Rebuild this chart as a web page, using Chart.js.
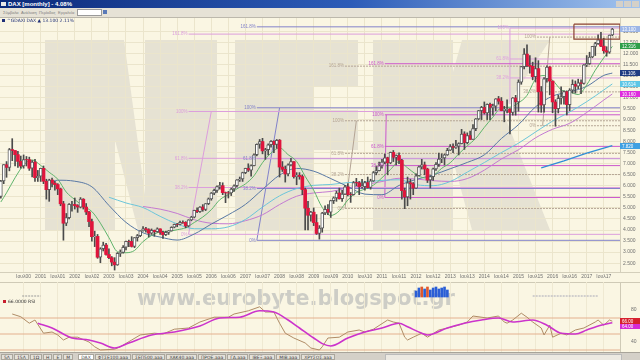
<!DOCTYPE html>
<html>
<head>
<meta charset="utf-8">
<title>DAX monthly</title>
<script src="https://cdn.jsdelivr.net/npm/chart.js@4.4.1/dist/chart.umd.min.js"></script>
<style>
  html, body { margin: 0; padding: 0; }
  body { width: 640px; height: 360px; overflow: hidden; position: relative; background: #faf6e3; font-family: "Liberation Sans", "DejaVu Sans", sans-serif; }
  #titlebar { position: absolute; left: 0; top: 0; width: 640px; height: 8px; background: linear-gradient(90deg, #0c2a7a 0%, #2c5cb8 55%, #a2c4ee 100%); color: #fff; font: bold 6px "Liberation Sans", sans-serif; line-height: 8px; }
  #titlebar .ico { position: absolute; left: 1px; top: 2px; width: 5px; height: 4px; background: #e8e8e8; }
  #titlebar .t { position: absolute; left: 8px; top: 0; }
  #titlebar .btns { position: absolute; right: 1px; top: 1px; line-height: 0; }
  #titlebar .btns span { display: inline-block; width: 7px; height: 6px; margin-left: 1px; background: #d4d0c8; }
  #toolbar { position: absolute; left: 0; top: 8px; width: 640px; height: 9px; background: #e6e2d6; border-bottom: 1px solid #bcb8ac; font: 4px "Liberation Sans", sans-serif; color: #808080; line-height: 9px; }
  #toolbar .m { position: absolute; top: 0; }
  #toolbar .box { position: absolute; left: 77px; top: 1px; width: 23px; height: 5px; background: #fff; border: 1px solid #9a9a9a; }
  #toolbar .go { position: absolute; left: 103px; top: 2px; width: 4px; height: 4px; background: #5a7ab8; }
  #main { position: absolute; left: 0; top: 18px; }
  #rsi { position: absolute; left: 0; top: 282px; }
  #legend { position: absolute; left: 2px; top: 18px; font: 4.5px "DejaVu Sans", sans-serif; color: #1f2f78; white-space: nowrap; }
  #legend i { display: inline-block; width: 3px; height: 3px; background: #1f2f78; margin-right: 2px; }
  #rsilegend { position: absolute; left: 3px; top: 299px; font: 4.5px "DejaVu Sans", sans-serif; color: #333; white-space: nowrap; }
  #rsilegend i { display: inline-block; width: 3px; height: 3px; background: #c81e2e; margin-right: 2px; }
  #tabs { position: absolute; left: 0; top: 352px; width: 640px; height: 8px; background: #d4d0c8; border-top: 1px solid #a8a49a; font: 4.5px "DejaVu Sans", sans-serif; color: #444; line-height: 6px; white-space: nowrap; }
  #tabs span { display: inline-block; margin: 1px 0 0 1px; padding: 0 2px; height: 6px; background: #e4e1da; border: 1px solid #aaa69c; box-sizing: border-box; line-height: 5px; }
  #tabs span.sel { background: #fff; }
  #tabs .scroll { position: absolute; left: 385px; top: 1px; width: 235px; height: 5px; background: #ece9e2; border: 1px solid #bbb; }
</style>
</head>
<body>
<div id="titlebar"><div class="ico"></div><div class="t">DAX [monthly] - 4.08%</div><div class="btns"><span></span><span></span><span></span></div></div>
<div id="toolbar">
  <span class="m" style="left:3px">Σύμβολο</span>
  <span class="m" style="left:21px">Ανάλυση</span>
  <span class="m" style="left:39px">Περίοδος</span>
  <span class="m" style="left:58px">Εργαλεία</span>
  <div class="box"></div><div class="go"></div>
</div>
<canvas id="main" width="640" height="264"></canvas>
<canvas id="rsi" width="640" height="70"></canvas>
<div id="legend"></div>
<div id="rsilegend"></div>
<div id="tabs"></div>

<script>
// ---- DAX monthly candles, Nov 1999 .. Oct 2017 (index 0 = Nov 1999) ----
const firstOpen = 5525;

const closes = [
    6222, 6958,                                                                   // 1999
    6835, 7644, 7599, 7414, 7109, 6898, 7190, 7186, 6798, 7077, 6372, 6434,       // 2000
    6795, 6208, 5829, 6264, 6123, 6058, 5862, 5188, 4308, 4559, 5160, 5160,       // 2001
    5108, 5039, 5397, 5041, 4818, 4383, 3700, 3712, 2769, 3153, 3320, 2893,       // 2002
    2748, 2547, 2424, 2942, 2983, 3221, 3487, 3484, 3257, 3655, 3746, 3965,       // 2003
    4059, 4018, 3857, 3985, 3921, 4052, 3896, 3785, 3893, 3960, 4126, 4256,       // 2004
    4254, 4350, 4349, 4185, 4460, 4587, 4887, 4830, 5044, 4929, 5193, 5408,       // 2005
    5674, 5796, 5970, 6009, 5693, 5683, 5682, 5859, 6004, 6268, 6309, 6597,       // 2006
    6789, 6716, 6917, 7409, 7883, 8007, 7584, 7638, 7862, 8020, 7871, 8067,       // 2007
    6852, 6748, 6535, 6949, 7097, 6418, 6480, 6422, 5831, 4988, 4669, 4810,       // 2008
    4338, 3844, 4085, 4770, 4941, 4809, 5332, 5458, 5675, 5415, 5625, 5957,       // 2009
    5608, 5598, 6154, 6136, 5965, 5966, 6148, 5925, 6229, 6601, 6688, 6914,       // 2010
    7077, 7273, 7041, 7514, 7294, 7376, 7159, 5785, 5502, 6141, 6089, 5898,       // 2011
    6458, 6856, 6947, 6761, 6264, 6416, 6772, 6971, 7216, 7261, 7406, 7612,       // 2012
    7776, 7742, 7795, 7914, 8349, 7959, 8276, 8103, 8594, 9033, 9406, 9552,       // 2013
    9306, 9692, 9556, 9603, 9943, 9833, 9407, 9470, 9474, 9327, 9980, 9806,       // 2014
    10694, 11402, 11966, 11454, 11414, 10945, 11309, 10259, 9660, 10850, 11382, 10743, // 2015
    9798, 9495, 9966, 10039, 10263, 9680, 10337, 10593, 10511, 10665, 10640, 11481, // 2016
    11535, 11834, 12313, 12438, 12615, 12325, 12118, 12056, 12829, 13100          // 2017
];

const highs = [
    6250, 6963,
    7100, 7695, 8136, 7600, 7560, 7350, 7400, 7330, 7300, 7150, 7200, 6700,
    6800, 6900, 6300, 6300, 6350, 6200, 6100, 5900, 5300, 4750, 5200, 5300,
    5450, 5150, 5470, 5420, 5200, 4850, 4500, 3950, 3800, 3200, 3450, 3400,
    3150, 2800, 2750, 2980, 3100, 3300, 3500, 3550, 3700, 3660, 3800, 3970,
    4160, 4120, 4060, 4050, 4000, 4100, 4060, 3950, 3950, 3980, 4150, 4270,
    4300, 4400, 4420, 4380, 4470, 4620, 4900, 5000, 5060, 5150, 5200, 5450,
    5700, 5850, 6000, 6160, 6140, 5720, 5750, 5900, 6050, 6280, 6400, 6620,
    6800, 7000, 6950, 7450, 7900, 8100, 8151, 7700, 7900, 8050, 8040, 8100,
    8100, 7100, 6900, 7000, 7250, 7100, 6600, 6600, 6500, 5900, 5300, 4850,
    5000, 4700, 4200, 4800, 5100, 5150, 5350, 5500, 5760, 5900, 5800, 6020,
    6100, 5700, 6200, 6340, 6200, 6300, 6200, 6400, 6300, 6650, 6900, 7080,
    7200, 7440, 7300, 7530, 7600, 7400, 7500, 7200, 5900, 6400, 6300, 6150,
    6550, 6900, 7200, 7080, 6800, 6450, 6800, 7050, 7480, 7450, 7440, 7700,
    7870, 7900, 8060, 7950, 8560, 8450, 8400, 8480, 8770, 9050, 9420, 9600,
    9800, 9710, 9750, 9700, 9950, 10050, 10000, 9600, 9900, 9500, 10000, 10100,
    10800, 11410, 12220, 12390, 11900, 11600, 11800, 11670, 10500, 10900, 11430, 11400,
    10750, 9900, 10110, 10480, 10300, 10300, 10400, 10800, 10750, 10830, 10800, 11490,
    11900, 12050, 12320, 12500, 12840, 12950, 12680, 12300, 12830, 13130
];

const lows = [
    5440, 6100,
    6388, 6680, 7140, 6900, 6834, 6800, 6800, 6900, 6700, 6400, 6200, 6200,
    6200, 6100, 5400, 5300, 5950, 5800, 5600, 5100, 3540, 4200, 4500, 4850,
    4950, 4800, 5000, 4950, 4700, 4150, 3500, 3250, 2720, 2520, 3050, 2860,
    2700, 2380, 2188, 2400, 2800, 2950, 3100, 3250, 3230, 3200, 3500, 3700,
    3950, 3900, 3690, 3800, 3720, 3900, 3800, 3620, 3750, 3800, 3950, 4100,
    4150, 4230, 4300, 4100, 4140, 4420, 4550, 4790, 4800, 4850, 4880, 5150,
    5350, 5600, 5700, 5850, 5600, 5240, 5450, 5560, 5750, 5950, 6200, 6200,
    6550, 6650, 6440, 6900, 7360, 7700, 7450, 7200, 7400, 7750, 7500, 7700,
    6400, 6650, 6170, 6450, 6900, 6350, 6050, 6300, 5600, 4000, 4000, 4400,
    4200, 3800, 3589, 3900, 4700, 4700, 4570, 5200, 5300, 5400, 5300, 5600,
    5540, 5250, 5580, 6000, 5600, 5900, 5800, 5900, 5850, 6200, 6500, 6680,
    6800, 7000, 6500, 7000, 7100, 6950, 7000, 5400, 4966, 5100, 5400, 5600,
    5880, 6450, 6760, 6500, 6150, 5900, 6250, 6700, 6880, 7050, 6950, 7380,
    7600, 7500, 7700, 7400, 7900, 7650, 7900, 8100, 8100, 8500, 9000, 9000,
    9250, 9000, 9000, 9200, 9400, 9700, 9400, 8900, 9300, 8355, 9200, 9200,
    9380, 10600, 11300, 11400, 11100, 10800, 10700, 9340, 9330, 9340, 10700, 10120,
    9310, 8700, 9300, 9700, 9700, 9210, 9400, 10200, 10200, 10400, 10170, 10600,
    11400, 11500, 11800, 11900, 12400, 12300, 12000, 11870, 12000, 12800
];

// moving averages (month index / value)
const greenIdx = [0, 2, 5, 8, 11, 14, 17, 20, 23, 26, 29, 32, 35, 38, 41, 44, 47, 50, 53, 56, 59,
    62, 65, 68, 71, 74, 77, 80, 83, 86, 89, 92, 95, 98, 101, 104, 107, 110, 113, 116, 119,
    122, 125, 128, 131, 134, 137, 140, 143, 146, 149, 152, 155, 158, 161, 164, 167, 170, 173,
    176, 179, 182, 185, 188, 191, 194, 197, 200, 203, 206, 209, 212, 215];
const greenVal = [5270, 5686, 6366, 6939, 7175, 6927, 6615, 6302, 5719, 5379, 5082, 4837, 4312,
    3654, 3021, 2972, 3075, 3480, 3751, 3915, 3943, 4013, 4105, 4341, 4588, 4920, 5374, 5604, 5864,
    6089, 6455, 7048, 7483, 7719, 7413, 7104, 6432, 5800, 5024, 4659, 4867, 5359, 5696, 5857, 6033,
    6365, 6741, 7094, 6816, 6522, 6360, 6460, 6792, 7046, 7447, 7809, 8154, 8649, 9112, 9533, 9561,
    9754, 10098, 10830, 10995, 10781, 10350, 10255, 10135, 10574, 11235, 11796, 12316];

const navyIdx = [17, 20, 26, 32, 38, 44, 50, 56, 62, 68, 74, 80, 86, 92, 98, 104, 110, 116, 122,
    128, 134, 140, 146, 152, 158, 164, 170, 176, 182, 188, 194, 200, 206, 212, 215];
const navyVal = [6162, 6255, 6210, 5957, 5115, 4347, 3874, 3682, 3546, 3820, 4269, 4691, 5161,
    5836, 6485, 6790, 6665, 6330, 5970, 5626, 5599, 6019, 6289, 6498, 6774, 7061, 7405, 8144, 8769,
    9577, 10065, 10258, 10505, 11001, 11106];

const cyanIdx = [38, 44, 50, 56, 62, 68, 74, 80, 86, 92, 98, 104, 110, 116, 122, 128, 134, 140,
    146, 152, 158, 164, 170, 176, 182, 188, 194, 200, 206, 212, 215];
const cyanVal = [5486, 5226, 5018, 4621, 4276, 4059, 4058, 4144, 4479, 5039, 5548, 5877, 6024,
    6062, 6147, 6176, 6248, 6275, 6053, 6008, 6197, 6622, 7056, 7508, 7932, 8439, 8932, 9344, 9812,
    10341, 10614];

const magentaIdx = [50, 56, 62, 68, 74, 80, 86, 92, 98, 104, 110, 116, 122, 128, 134, 140, 146,
    152, 158, 164, 170, 176, 182, 188, 194, 200, 206, 212, 215];
const magentaVal = [5065, 4946, 4751, 4468, 4308, 4283, 4422, 4691, 5153, 5530, 5678, 5745, 5903,
    6056, 6195, 6342, 6309, 6234, 6200, 6330, 6712, 7217, 7633, 8175, 8563, 8832, 9324, 9885, 10160];

const blueIdx = [190, 198, 206, 215];
const blueVal = [6810, 7130, 7480, 7820];

// fibonacci sets: start index, level values, level names, connector
const fibStarts = [66, 90, 121, 135, 179, 188.5];
const fibLevels = [
    [3805, 5925, 7247, 9367, 12871],
    [3534, 5880, 7233, 9534, 13200],
    [4978, 6512, 7472, 8947, 11420],
    [5474, 6917, 7788, 9218, 11530],
    [10887, 11744, 13142],
    [8722, 10255, 12736]
];
const fibNames = [
    ['0%', '38.2%', '61.8%', '100%', '161.8%'],
    ['0%', '38.2%', '61.8%', '100%', '161.8%'],
    ['0%', '38.2%', '61.8%', '100%', '161.8%'],
    ['0%', '38.2%', '61.8%', '100%', '161.8%'],
    ['38.2%', '61.8%', '100%'],
    ['0%', '38.2%', '100%']
];
const fibConnIdx = [[66, 74], [90, 98], [121, 125], [135, 135.5], [179, 179], [190.5, 193]];
const fibConnVal = [[3805, 9367], [3534, 9534], [4978, 8947], [5474, 9218], [9700, 13142], [8722, 12736]];

// rectangle drawn around the latest highs
const boxIdx = [201.5, 217.7, 217.7, 201.5, 201.5];
const boxVal = [13320, 13320, 12645, 12645, 13320];

// RSI panel
const rsiIdx = [4, 7, 10, 12, 15, 18, 20, 22, 24, 27, 31, 33, 35, 40, 42, 46, 49, 54, 57, 61,
    66, 70, 75, 80, 82, 87, 91, 93, 96, 98, 100, 103, 107, 109, 112, 113, 115, 119, 122, 126,
    128, 131, 136, 138, 140, 142, 143, 145, 148, 150, 154, 157, 161, 164, 166, 171, 175, 177, 178, 180,
    183, 185, 187, 190, 191, 193, 194, 197, 199, 202, 205, 209, 210, 212, 214, 215];
const rsiVal = [75, 71.6, 63.5, 67.5, 51, 52.5, 48.8, 42.5, 46, 46, 40, 34, 30, 31, 34, 42.5, 48.8, 51, 50, 56,
    57.5, 65, 71, 71, 75, 79, 84, 77.5, 77.5, 63.5, 51, 45, 38.8, 32.5, 30, 34, 45, 46, 52.5, 55,
    52.5, 56, 67.5, 65, 63.5, 46, 42.5, 46, 51, 46, 55, 57.5, 61, 65, 72.5, 70, 72.5, 65, 63.5, 67.5,
    76, 71, 65, 57.5, 48.8, 61, 46, 51, 48.8, 55, 57.5, 65, 67.5, 61, 67.5, 66];
const rsiMaIdx = [13, 18, 25, 31, 35, 40, 45, 53, 61, 70, 77, 84, 91, 96, 101, 105, 110, 113, 116, 122,
    128, 134, 140, 143, 148, 150, 157, 163, 169, 175, 180, 187, 192, 197, 202, 206, 211, 215];
const rsiMaVal = [63.5, 57.5, 45, 42.5, 38.8, 32.5, 38.8, 48.8, 52.5, 60, 70, 71, 79, 77.5, 67.5, 57.5, 45, 38, 35, 45,
    52.5, 57.5, 63.5, 59, 51, 48.8, 57.5, 63.5, 67.5, 70, 65, 67.5, 61, 51, 50, 55, 61, 64];
const rsiGuides = [70, 50, 30];
const rsiTicks = [40, 60, 80];

// small bar strip at the top of the RSI panel
const stripIdx = [146, 147, 148, 149, 150, 151, 152, 153, 154, 155, 156, 157];
const stripVal = [0.6, 0.9, 1.0, 0.8, 1.0, 0.7, 0.9, 1.0, 0.8, 0.9, 1.0, 0.7];

// axes
const yTicks = [2500, 3000, 3500, 4000, 4500, 5000, 5500, 6000, 6500, 7000, 7500, 8000, 8500,
    9000, 9500, 10000, 10500, 11000, 11500, 12000, 12500, 13000];
const xTickIdx = [8, 14, 20, 26, 32, 38, 44, 50, 56, 62, 68, 74, 80, 86, 92, 98, 104, 110, 116,
    122, 128, 134, 140, 146, 152, 158, 164, 170, 176, 182, 188, 194, 200, 206, 212];
const xTickLabels = ['Ιουλ00', '2001', 'Ιουλ01', '2002', 'Ιουλ02', '2003', 'Ιουλ03', '2004', 'Ιουλ04',
    '2005', 'Ιουλ05', '2006', 'Ιουλ06', '2007', 'Ιουλ07', '2008', 'Ιουλ08', '2009', 'Ιουλ09', '2010',
    'Ιουλ10', '2011', 'Ιουλ11', '2012', 'Ιουλ12', '2013', 'Ιουλ13', '2014', 'Ιουλ14', '2015', 'Ιουλ15',
    '2016', 'Ιουλ16', '2017', 'Ιουλ17'];
const tabNames = ['5Λ', '15Λ', '1Ω', 'Η', 'Ε', 'Μ', 'DAX', 'ΦΤΣΕ100.aaa', 'ΣΕΠ500.aaa', 'ΧΑΚ40.aaa',
    'ΠΡΟΕ.aaa', 'ΓΔ.aaa', 'ΙΒΕΞ.aaa', 'ΜΙΒ.aaa', 'ΧΡΥΣΟΣ.aaa'];

// ---- setup ----
const X_MIN = -0.3, X_MAX = 217.7;
const FONT = '"Liberation Sans", "DejaVu Sans", sans-serif';
const fmt = v => String(Math.round(v)).replace(/\B(?=(\d{3})+(?!\d))/g, '.');
const pts = (idx, vals) => idx.map((x, k) => ({ x, y: vals[k] }));
const noPad = s => { s.paddingTop = 0; s.paddingBottom = 0; s.paddingLeft = 0; s.paddingRight = 0; };

const wickData = [], upData = [], downData = [];
closes.forEach((c, i) => {
    const o = i === 0 ? firstOpen : closes[i - 1];
    wickData.push({ x: i, y: [lows[i], highs[i]] });
    (c >= o ? upData : downData).push({ x: i, y: [o, c] });
});

function line(data, color, width, order, extra) {
    return Object.assign({
        type: 'line', data, borderColor: color, borderWidth: width,
        pointRadius: 0, fill: false, tension: 0, order
    }, extra || {});
}

const fibColors = ['#dc9edc', '#8282ca', '#b4a494', '#cc58cc', '#dea2de', '#b4a494'];
const fibDatasets = [];
fibStarts.forEach((s, k) => {
    const dash = k === 2 || k === 5 ? [2, 1] : [];
    fibLevels[k].forEach(v => {
        fibDatasets.push(line([{ x: s, y: v }, { x: X_MAX, y: v }], fibColors[k], 1, 6, { borderDash: dash }));
    });
    fibDatasets.push(line(pts(fibConnIdx[k], fibConnVal[k]), fibColors[k], 1, 6));
});

document.getElementById('legend').innerHTML =
    '<i></i>^GDAXI DAX &#9650; ' + fmt(closes[closes.length - 1]) + ' ' +
    ((closes[closes.length - 1] - closes[closes.length - 2]) / closes[closes.length - 2] * 100).toFixed(2) + '%';
document.getElementById('rsilegend').innerHTML = '<i></i>' + rsiVal[rsiVal.length - 1].toFixed(4) + ' RSI';
document.getElementById('tabs').innerHTML = tabNames.map((t, k) =>
    '<span' + (k === 6 ? ' class="sel" style="margin-left:5px"' : '') + '>' + t + '</span>'
).join('') + '<div class="scroll"></div>';

// watermark letters (page pixels)
const watermark = [
    [[45, 40], [115, 40], [115, 230], [45, 230]],
    [[145, 40], [217, 40], [217, 230], [145, 230]],
    [[115, 40], [124, 40], [145, 195], [145, 230], [138, 230], [115, 140]],
    [[235, 40], [358, 40], [358, 87], [313, 87], [313, 110], [358, 110], [358, 150], [313, 150], [313, 230], [235, 230]],
    [[373, 40], [453, 40], [453, 230], [373, 230]],
    [[462, 40], [550, 40], [503, 112], [550, 230], [472, 230], [453, 160], [453, 72]]
];

const mainBg = {
    id: 'mainBg',
    beforeDraw(chart) {
        const { ctx, chartArea: a, width, height } = chart;
        ctx.save();
        ctx.fillStyle = '#faf6e3';
        ctx.fillRect(0, 0, width, height);
        ctx.translate(0, -18);
        ctx.fillStyle = '#e6e2d3';
        watermark.forEach(p => {
            ctx.beginPath();
            p.forEach(([x, y], k) => k ? ctx.lineTo(x, y) : ctx.moveTo(x, y));
            ctx.closePath();
            ctx.fill();
        });
        ctx.restore();
        ctx.save();
        ctx.strokeStyle = '#d4cfbb';
        ctx.lineWidth = 1;
        ctx.beginPath();
        ctx.moveTo(0, a.bottom + 0.5); ctx.lineTo(width, a.bottom + 0.5);
        ctx.moveTo(a.right + 0.5, 0); ctx.lineTo(a.right + 0.5, a.bottom);
        ctx.stroke();
        ctx.restore();
    }
};

function valueBox(ctx, x, y, text, bg, fg) {
    ctx.fillStyle = bg;
    ctx.fillRect(x, Math.round(y) - 3, 20, 6);
    ctx.fillStyle = fg;
    ctx.font = '4.5px ' + FONT;
    ctx.textAlign = 'left';
    ctx.textBaseline = 'middle';
    ctx.fillText(text, x + 2, Math.round(y) + 0.5);
}

const mainLabels = {
    id: 'mainLabels',
    afterDraw(chart) {
        const { ctx, scales: { x, y }, chartArea: a } = chart;
        ctx.save();
        ctx.font = '4.5px ' + FONT;
        ctx.textAlign = 'right';
        ctx.textBaseline = 'middle';
        fibStarts.forEach((s, k) => {
            ctx.fillStyle = fibColors[k];
            fibLevels[k].forEach((v, j) => {
                ctx.fillText(fibNames[k][j], x.getPixelForValue(s) - 1, y.getPixelForValue(v));
            });
        });
        const boxes = [
            [closes[closes.length - 1], '#9db6e6', '#fff'],
            [greenVal[greenVal.length - 1], '#2f9e48', '#fff'],
            [navyVal[navyVal.length - 1], '#1f3c82', '#fff'],
            [cyanVal[cyanVal.length - 1], '#5ec6e6', '#fff'],
            [magentaVal[magentaVal.length - 1], '#de2ede', '#fff'],
            [blueVal[blueVal.length - 1], '#3fa0e2', '#fff']
        ];
        boxes.forEach(([v, bg, fg]) => valueBox(ctx, a.right, y.getPixelForValue(v), fmt(v), bg, fg));
        ctx.restore();
    }
};

new Chart(document.getElementById('main'), {
    type: 'bar',
    data: {
        datasets: [
            { data: upData, backgroundColor: '#ffffff', borderColor: '#5c5c5c', borderWidth: 1, borderSkipped: false, barThickness: 3, grouped: false, order: 1 },
            { data: downData, backgroundColor: '#e0143c', borderWidth: 0, barThickness: 3, grouped: false, order: 1 },
            { data: wickData, backgroundColor: '#4a4a4a', borderWidth: 0, barThickness: 1, grouped: false, order: 2 },
            line(pts(greenIdx, greenVal), '#5fb46c', 1, 3, { cubicInterpolationMode: 'monotone' }),
            line(pts(navyIdx, navyVal), '#5878a4', 1, 3, { cubicInterpolationMode: 'monotone' }),
            line(pts(cyanIdx, cyanVal), '#6cc6da', 1, 3, { cubicInterpolationMode: 'monotone' }),
            line(pts(magentaIdx, magentaVal), '#c47ad2', 1, 3, { cubicInterpolationMode: 'monotone' }),
            line(pts(blueIdx, blueVal), '#2f8ed6', 1.3, 3),
            line(pts(boxIdx, boxVal), '#8a4232', 1.2, 0),
            ...fibDatasets
        ]
    },
    options: {
        responsive: false,
        animation: false,
        events: [],
        layout: { padding: 0 },
        plugins: { legend: { display: false }, tooltip: { enabled: false } },
        scales: {
            x: {
                type: 'linear', min: X_MIN, max: X_MAX, offset: false,
                grid: { offset: false, color: '#ebe5cc', drawTicks: false },
                border: { display: false },
                afterBuildTicks: s => { s.ticks = xTickIdx.map(v => ({ value: v })); },
                afterFit: s => { s.height = 10; noPad(s); },
                ticks: {
                    autoSkip: false, maxRotation: 0, padding: 2, color: '#707070',
                    font: { size: 5, family: FONT },
                    callback: v => { const k = xTickIdx.indexOf(v); return k >= 0 ? xTickLabels[k] : ''; }
                }
            },
            y: {
                position: 'right', min: 2100, max: 13600,
                grid: { color: '#ebe5cc', drawTicks: false },
                border: { display: false },
                afterBuildTicks: s => { s.ticks = yTicks.map(v => ({ value: v })); },
                afterFit: s => { s.width = 20; noPad(s); },
                ticks: { padding: 3, color: '#707070', font: { size: 5, family: FONT }, callback: v => fmt(v) }
            }
        }
    },
    plugins: [mainBg, mainLabels]
});

// ---- RSI panel ----
const rsiBg = {
    id: 'rsiBg',
    beforeDraw(chart) {
        const { ctx, chartArea: a, width, height } = chart;
        ctx.save();
        ctx.fillStyle = '#faf6e3';
        ctx.fillRect(0, 0, width, height);
        ctx.strokeStyle = '#cfcab6';
        ctx.beginPath();
        ctx.moveTo(0, 0.5); ctx.lineTo(width, 0.5);
        ctx.moveTo(a.right + 0.5, 0); ctx.lineTo(a.right + 0.5, height);
        ctx.stroke();
        // site watermark
        const text = 'www.eurobyte.blogspot.gr';
        ctx.font = 'bold 21px "DejaVu Sans", sans-serif';
        const w = ctx.measureText(text).width;
        ctx.translate(137, 23);
        ctx.scale(318 / w, 1);
        ctx.fillStyle = '#cdcdc6';
        ctx.textBaseline = 'alphabetic';
        ctx.fillText(text, 0, 0);
        ctx.restore();
    }
};

const rsiLabels = {
    id: 'rsiLabels',
    afterDraw(chart) {
        const { ctx, scales: { y }, chartArea: a } = chart;
        ctx.save();
        const y1 = y.getPixelForValue(rsiVal[rsiVal.length - 1]);
        let y2 = y.getPixelForValue(rsiMaVal[rsiMaVal.length - 1]);
        if (Math.abs(y2 - y1) < 5) y2 = y1 + 5;
        valueBox(ctx, a.right, y2, rsiMaVal[rsiMaVal.length - 1].toFixed(2), '#d62ad6', '#fff');
        valueBox(ctx, a.right, y1, rsiVal[rsiVal.length - 1].toFixed(2), '#d6202e', '#fff');
        ctx.restore();
    }
};

new Chart(document.getElementById('rsi'), {
    type: 'line',
    data: {
        datasets: [
            line(pts(rsiIdx, rsiVal), '#b08c66', 1, 2),
            line(pts(rsiMaIdx, rsiMaVal), '#cc33cc', 1.6, 1, { cubicInterpolationMode: 'monotone' }),
            ...rsiGuides.map(g => line([{ x: X_MIN, y: g }, { x: X_MAX, y: g }], '#e4b08e', 1, 5)),
            {
                type: 'bar', yAxisID: 'yv', data: stripIdx.map((x, k) => ({ x, y: [0, stripVal[k]] })),
                backgroundColor: stripIdx.map((x, k) => (k === 2 || k === 4) ? '#e0582c' : '#2a5ed6'),
                barThickness: 2, grouped: false, order: 0
            },
            Object.assign(line([{ x: 7.5, y: 0.1 }, { x: 14, y: 0.1 }], '#9a9a9a', 1, 0, { borderDash: [2, 1] }), { yAxisID: 'yv' }),
            Object.assign(line([{ x: 187, y: 0.1 }, { x: 210, y: 0.1 }], '#a8a8b8', 1, 0, { borderDash: [2, 1] }), { yAxisID: 'yv' })
        ]
    },
    options: {
        responsive: false,
        animation: false,
        events: [],
        layout: { padding: 0 },
        plugins: { legend: { display: false }, tooltip: { enabled: false } },
        scales: {
            x: {
                type: 'linear', min: X_MIN, max: X_MAX, offset: false,
                grid: { offset: false, color: '#efe9d2', drawTicks: false },
                border: { display: false },
                afterBuildTicks: s => { s.ticks = xTickIdx.map(v => ({ value: v })); },
                afterFit: s => { s.height = 0; noPad(s); },
                ticks: { display: false }
            },
            y: {
                position: 'right', min: 27.5, max: 115,
                grid: { display: false },
                border: { display: false },
                afterBuildTicks: s => { s.ticks = rsiTicks.map(v => ({ value: v })); },
                afterFit: s => { s.width = 20; noPad(s); },
                ticks: { padding: 3, color: '#707070', font: { size: 5, family: FONT } }
            },
            yv: { display: false, min: -5.5, max: 1.5 }
        }
    },
    plugins: [rsiBg, rsiLabels]
});
</script>
</body>
</html>
